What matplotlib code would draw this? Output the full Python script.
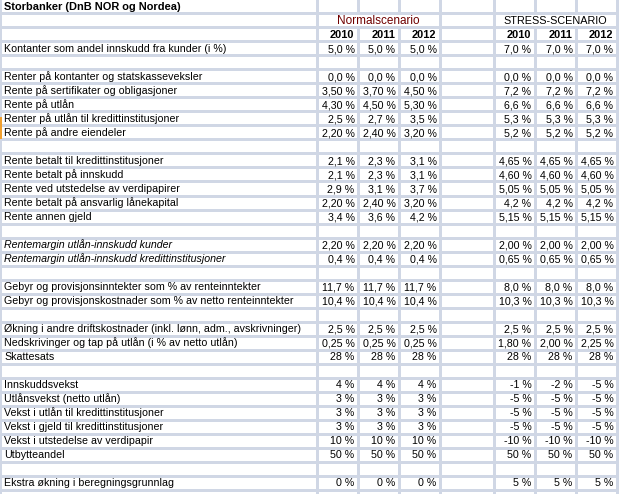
import matplotlib
matplotlib.use("Agg")
import matplotlib.pyplot as plt

# rader fra rad 3 og nedover ("" = tom rad)
row_labels = [
    "Kontanter som andel innskudd fra kunder (i %)",
    "",
    "Renter på kontanter og statskasseveksler",
    "Rente på sertifikater og obligasjoner",
    "Rente på utlån",
    "Renter på utlån til kredittinstitusjoner",
    "Rente på andre eiendeler",
    "",
    "Rente betalt til kredittinstitusjoner",
    "Rente betalt på innskudd",
    "Rente ved utstedelse av verdipapirer",
    "Rente betalt på ansvarlig lånekapital",
    "Rente annen gjeld",
    "",
    "Rentemargin utlån-innskudd kunder",
    "Rentemargin utlån-innskudd kredittinstitusjoner",
    "",
    "Gebyr og provisjonsinntekter som % av renteinntekter",
    "Gebyr og provisjonskostnader som % av netto renteinntekter",
    "",
    "Økning i andre driftskostnader (inkl. lønn, adm., avskrivninger)",
    "Nedskrivinger og tap på utlån (i % av netto utlån)",
    "Skattesats",
    "",
    "Innskuddsvekst",
    "Utlånsvekst (netto utlån)",
    "Vekst i utlån til kredittinstitusjoner",
    "Vekst i gjeld til kredittinstitusjoner",
    "Vekst i utstedelse av verdipapir",
    "Utbytteandel",
    "",
    "Ekstra økning i beregningsgrunnlag",
]
italic_rows = {"Rentemargin utlån-innskudd kunder",
               "Rentemargin utlån-innskudd kredittinstitusjoner"}

years = ["2010", "2011", "2012"]

normal_values = [
    ("5,0 %", "5,0 %", "5,0 %"),
    None,
    ("0,0 %", "0,0 %", "0,0 %"),
    ("3,50 %", "3,70 %", "4,50 %"),
    ("4,30 %", "4,50 %", "5,30 %"),
    ("2,5 %", "2,7 %", "3,5 %"),
    ("2,20 %", "2,40 %", "3,20 %"),
    None,
    ("2,1 %", "2,3 %", "3,1 %"),
    ("2,1 %", "2,3 %", "3,1 %"),
    ("2,9 %", "3,1 %", "3,7 %"),
    ("2,20 %", "2,40 %", "3,20 %"),
    ("3,4 %", "3,6 %", "4,2 %"),
    None,
    ("2,20 %", "2,20 %", "2,20 %"),
    ("0,4 %", "0,4 %", "0,4 %"),
    None,
    ("11,7 %", "11,7 %", "11,7 %"),
    ("10,4 %", "10,4 %", "10,4 %"),
    None,
    ("2,5 %", "2,5 %", "2,5 %"),
    ("0,25 %", "0,25 %", "0,25 %"),
    ("28 %", "28 %", "28 %"),
    None,
    ("4 %", "4 %", "4 %"),
    ("3 %", "3 %", "3 %"),
    ("3 %", "3 %", "3 %"),
    ("3 %", "3 %", "3 %"),
    ("10 %", "10 %", "10 %"),
    ("50 %", "50 %", "50 %"),
    None,
    ("0 %", "0 %", "0 %"),
]

stress_values = [
    ("7,0 %", "7,0 %", "7,0 %"),
    None,
    ("0,0 %", "0,0 %", "0,0 %"),
    ("7,2 %", "7,2 %", "7,2 %"),
    ("6,6 %", "6,6 %", "6,6 %"),
    ("5,3 %", "5,3 %", "5,3 %"),
    ("5,2 %", "5,2 %", "5,2 %"),
    None,
    ("4,65 %", "4,65 %", "4,65 %"),
    ("4,60 %", "4,60 %", "4,60 %"),
    ("5,05 %", "5,05 %", "5,05 %"),
    ("4,2 %", "4,2 %", "4,2 %"),
    ("5,15 %", "5,15 %", "5,15 %"),
    None,
    ("2,00 %", "2,00 %", "2,00 %"),
    ("0,65 %", "0,65 %", "0,65 %"),
    None,
    ("8,0 %", "8,0 %", "8,0 %"),
    ("10,3 %", "10,3 %", "10,3 %"),
    None,
    ("2,5 %", "2,5 %", "2,5 %"),
    ("1,80 %", "2,00 %", "2,25 %"),
    ("28 %", "28 %", "28 %"),
    None,
    ("-1 %", "-2 %", "-5 %"),
    ("-5 %", "-5 %", "-5 %"),
    ("-5 %", "-5 %", "-5 %"),
    ("-5 %", "-5 %", "-5 %"),
    ("-10 %", "-10 %", "-10 %"),
    ("50 %", "50 %", "50 %"),
    None,
    ("5 %", "5 %", "5 %"),
]

title = "Storbanker (DnB NOR og Nordea)"
normal_title = "Normalscenario"
stress_title = "STRESS-SCENARIO"

# layout i piksler (regneark-rutenett)
W, H = 619, 494
ROW_H = 14
TOP = -1
col_edges = [0, 316.5, 357.5, 398.5, 439.5, 493.5, 534.5, 575.5, 616.5]
normal_cols = [2, 3, 4]   # hoyrekant-indeks i col_edges
stress_cols = [6, 7, 8]
GRID = "#d0d7e5"
FONT = "Liberation Sans"
FS = 7.7


def row_bottom(r):
    return TOP + ROW_H * (r + 1)


fig = plt.figure(figsize=(W / 100, H / 100), dpi=100)
ax = fig.add_axes([0, 0, 1, 1])
ax.set_xlim(0, W)
ax.set_ylim(H, 0)
ax.axis("off")

# rutenett
n_rows = (H - TOP) // ROW_H + 1
for r in range(n_rows):
    y = row_bottom(r) + 0.5
    ax.plot([0, W], [y, y], color=GRID, lw=0.75, antialiased=False)
for i, x in enumerate(col_edges):
    if i in (2, 3, 6, 7):
        # skjult bak sentrert overskrift i rad 1
        ax.plot([x, x], [0, row_bottom(0) + 0.5], color=GRID, lw=0.75, antialiased=False)
        ax.plot([x, x], [row_bottom(1) + 0.5, H], color=GRID, lw=0.75, antialiased=False)
    else:
        ax.plot([x, x], [0, H], color=GRID, lw=0.75, antialiased=False)
ax.plot([0.5, 0.5], [118, 138], color="#f0a030", lw=1.2, antialiased=False)


def cell_text(x, r, s, size=FS, **kw):
    ax.text(x, row_bottom(r) - 3, s, family=FONT, fontsize=size, va="baseline", **kw)


cell_text(4, 0, title, size=FS + 0.2, weight="bold")
cell_text((col_edges[1] + col_edges[4]) / 2, 1, normal_title, size=FS + 0.8,
          ha="center", color="#700000")
cell_text((col_edges[5] + col_edges[8]) / 2, 1, stress_title, size=FS + 0.1,
          ha="center")
for cols in (normal_cols, stress_cols):
    for c, yr in zip(cols, years):
        cell_text(col_edges[c] - 3, 2, yr, size=FS + 0.2, ha="right", weight="bold")

for i, label in enumerate(row_labels):
    r = i + 3
    if label:
        style = "italic" if label in italic_rows else "normal"
        cell_text(4, r, label, style=style)
    for cols, vals in ((normal_cols, normal_values[i]), (stress_cols, stress_values[i])):
        if vals is None:
            continue
        for c, v in zip(cols, vals):
            cell_text(col_edges[c] - 3, r, v, ha="right")

fig.savefig("out.png", dpi=100)
